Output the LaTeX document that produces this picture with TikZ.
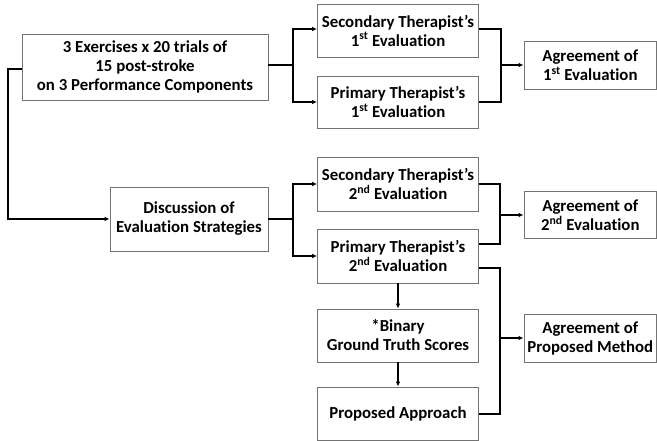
\documentclass[tikz,border=0pt]{standalone}
\usepackage{fontspec}
\setmainfont{Carlito}[Ligatures=NoCommon]
\usetikzlibrary{arrows.meta,calc}
\begin{document}
\begin{tikzpicture}[x=1pt,y=-1pt,
  box/.style={draw=black!55,line width=0.8pt,fill=white,align=center,inner sep=2pt,
    font=\fontsize{16.8}{19}\selectfont\bfseries},
  wire/.style={line width=2pt,draw=black},
  arr/.style={wire,-{Latex[length=5pt,width=4.5pt]}}]
\useasboundingbox (0,0) rectangle (657,441);
\node[box,minimum width=246pt,minimum height=66pt] (main) at (145,67) {3 Exercises x 20 trials of\\15 post-stroke\\on 3 Performance Components};
\node[box,minimum width=161pt,minimum height=53pt] (sec1) at (398,30.5) {Secondary Therapist’s\\1\textsuperscript{st} Evaluation};
\node[box,minimum width=161pt,minimum height=52pt] (pri1) at (398,102) {Primary Therapist’s\\1\textsuperscript{st} Evaluation};
\node[box,minimum width=132.5pt,minimum height=48pt] (agr1) at (590.25,65) {Agreement of\\1\textsuperscript{st} Evaluation};
\node[box,minimum width=158pt,minimum height=64pt] (disc) at (189,219) {Discussion of\\Evaluation Strategies};
\node[box,minimum width=161pt,minimum height=54pt] (sec2) at (398,184) {Secondary Therapist’s\\2\textsuperscript{nd} Evaluation};
\node[box,minimum width=161pt,minimum height=54pt] (pri2) at (398,256) {Primary Therapist’s\\2\textsuperscript{nd} Evaluation};
\node[box,minimum width=132.5pt,minimum height=47pt] (agr2) at (590.25,215) {Agreement of\\2\textsuperscript{nd} Evaluation};
\node[box,minimum width=161pt,minimum height=53pt] (bin) at (398,335.5) {*Binary\\Ground Truth Scores};
\node[box,minimum width=161pt,minimum height=53pt] (prop) at (398,413.5) {Proposed Approach};
\node[box,minimum width=132.5pt,minimum height=48pt] (agr3) at (590.25,338) {Agreement of\\Proposed Method};
% first stage
\coordinate (b1) at (293,65);
\draw[wire] (main.east |- b1) -- (b1);
\draw[arr] (b1) |- ([yshift=1.5pt]sec1.west);
\draw[arr] (b1) |- (pri1.west);
\coordinate (m1) at (501,65);
\draw[wire] ([yshift=1.5pt]sec1.east) -| (m1) |- (pri1.east);
\draw[arr] (m1) -- (agr1.west);
% loop to discussion
\coordinate (l1) at (8,69);
\draw[arr] (main.west |- l1) -- (l1) |- (disc.west);
% second stage
\coordinate (b2) at (293,219);
\draw[wire] (disc.east) -- (b2);
\draw[arr] (b2) |- (sec2.west);
\draw[arr] (b2) |- (pri2.west);
\coordinate (m2) at (500,215);
\draw[wire] (sec2.east) -| (m2) |- ([yshift=12pt]pri2.east);
\draw[arr] (m2) -- (agr2.west);
% third stage
\coordinate (m3) at (500,338);
\draw[wire] ([yshift=-12pt]pri2.east) -| (m3) |- (prop.east);
\draw[arr] (m3) -- (agr3.west);
\draw[arr] (pri2.south) -- (bin.north);
\draw[arr] (bin.south) -- (prop.north);
\end{tikzpicture}
\end{document}
